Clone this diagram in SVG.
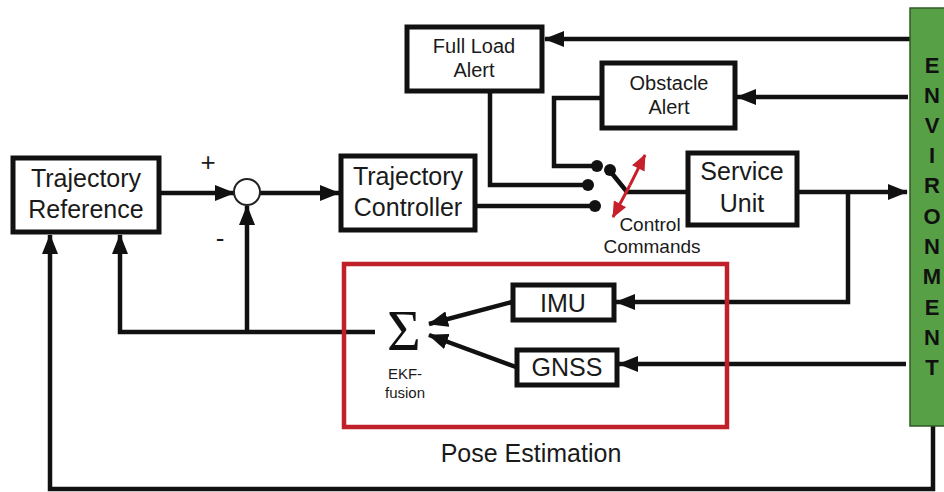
<svg xmlns="http://www.w3.org/2000/svg" width="944" height="492" viewBox="0 0 944 492">
<defs>
<style>
.box{fill:#fff;stroke:#111;stroke-width:5}
.ln{fill:none;stroke:#111;stroke-width:4.5}
.t{font-family:"Liberation Sans",Arial,sans-serif;fill:#1a1a1a;text-anchor:middle}
.big{font-size:25px}
.mid{font-size:20px}
.env{font-family:"Liberation Sans",Arial,sans-serif;font-weight:bold;font-size:22px;fill:#111;text-anchor:middle}
.dot{fill:#111}
</style>
<marker id="ah" viewBox="0 0 20 16" refX="19" refY="8" markerWidth="20" markerHeight="16" markerUnits="userSpaceOnUse" orient="auto">
<path d="M0,0 L20,8 L0,16 Z" fill="#111"/>
</marker>
<marker id="rh" viewBox="0 0 16 14" refX="15" refY="7" markerWidth="16" markerHeight="14" markerUnits="userSpaceOnUse" orient="auto">
<path d="M0,0 L16,7 L0,14 Z" fill="#c8202a"/>
</marker>
</defs>
<rect width="944" height="492" fill="#fff"/>

<g id="connectors">
<path class="ln" d="M910,39 H545" marker-end="url(#ah)"/>
<path class="ln" d="M908,97 H737" marker-end="url(#ah)"/>
<path class="ln" d="M490,92 V185 H588"/>
<path class="ln" d="M602,98 H554 V166 H597"/>
<path class="ln" d="M476,206 H595"/>
<path class="ln" d="M610,171 L627,192 H688"/>
<path class="ln" d="M797,192 H907" marker-end="url(#ah)"/>
<path class="ln" d="M848,192 V302 H616" marker-end="url(#ah)"/>
<path class="ln" d="M906,364 H619" marker-end="url(#ah)"/>
<path class="ln" d="M512,302 L429,324" marker-end="url(#ah)"/>
<path class="ln" d="M516,367 L429,335" marker-end="url(#ah)"/>
<path class="ln" d="M375,332 H120 V235" marker-end="url(#ah)"/>
<path class="ln" d="M247,332 V206" marker-end="url(#ah)"/>
<path class="ln" d="M160,193 H234" marker-end="url(#ah)"/>
<path class="ln" d="M260,193 H339" marker-end="url(#ah)"/>
<path class="ln" d="M933,426 V489 H50 V235" marker-end="url(#ah)"/>
<circle class="dot" cx="597" cy="166" r="6"/>
<circle class="dot" cx="588" cy="185" r="6"/>
<circle class="dot" cx="595" cy="206" r="6"/>
<circle class="dot" cx="610" cy="170" r="6"/>
<path d="M630,185 L645,155" fill="none" stroke="#c8202a" stroke-width="3" marker-end="url(#rh)"/>
<path d="M630,185 L613,217" fill="none" stroke="#c8202a" stroke-width="3" marker-end="url(#rh)"/>
</g>

<g id="environment">
<rect x="910" y="8" width="40" height="418" fill="#58a046" stroke="#2f5a28" stroke-width="1.5"/>
<text class="env" x="932" y="73">E</text>
<text class="env" x="932" y="103">N</text>
<text class="env" x="932" y="133">V</text>
<text class="env" x="932" y="163">I</text>
<text class="env" x="932" y="193">R</text>
<text class="env" x="932" y="224">O</text>
<text class="env" x="932" y="254">N</text>
<text class="env" x="932" y="284">M</text>
<text class="env" x="932" y="315">E</text>
<text class="env" x="932" y="345">N</text>
<text class="env" x="932" y="375">T</text>
</g>

<g id="trajectory-reference">
<rect class="box" x="13" y="158" width="146" height="74"/>
<text class="t big" x="86" y="187">Trajectory</text>
<text class="t big" x="86" y="218">Reference</text>
</g>

<g id="sum">
<circle cx="247" cy="192" r="13" fill="#fff" stroke="#222" stroke-width="2"/>
<text class="t" x="208" y="171" font-size="26">+</text>
<text class="t" x="220" y="247" font-size="26">-</text>
</g>

<g id="trajectory-controller">
<rect class="box" x="341" y="156" width="134" height="74"/>
<text class="t big" x="408" y="185">Trajectory</text>
<text class="t big" x="408" y="216">Controller</text>
</g>

<g id="full-load-alert">
<rect class="box" x="407" y="27" width="135" height="64"/>
<text class="t mid" x="474" y="53">Full Load</text>
<text class="t mid" x="474" y="77">Alert</text>
</g>

<g id="obstacle-alert">
<rect class="box" x="602" y="63" width="133" height="65"/>
<text class="t mid" x="669" y="90">Obstacle</text>
<text class="t mid" x="669" y="114">Alert</text>
</g>

<g id="service-unit">
<rect class="box" x="688" y="153" width="109" height="72"/>
<text class="t big" x="742" y="180">Service</text>
<text class="t big" x="742" y="212">Unit</text>
</g>

<g id="control-commands">
<text class="t" x="650" y="231" font-size="19">Control</text>
<text class="t" x="652" y="253" font-size="19">Commands</text>
</g>

<g id="pose-estimation">
<rect x="344" y="264" width="383" height="163" fill="none" stroke="#c0202a" stroke-width="4.5"/>
<text class="t" x="531" y="462" font-size="25">Pose Estimation</text>
</g>

<g id="ekf-fusion">
<text x="404" y="350" font-family="'Liberation Serif','DejaVu Serif',serif" font-size="58" text-anchor="middle" fill="#111">Σ</text>
<text class="t" x="405" y="379" font-size="15">EKF-</text>
<text class="t" x="405" y="398" font-size="15">fusion</text>
</g>

<g id="imu">
<rect class="box" x="513" y="285" width="101" height="35"/>
<text class="t big" x="563" y="312">IMU</text>
</g>

<g id="gnss">
<rect class="box" x="517" y="350" width="100" height="35"/>
<text class="t big" x="567" y="376">GNSS</text>
</g>
</svg>
